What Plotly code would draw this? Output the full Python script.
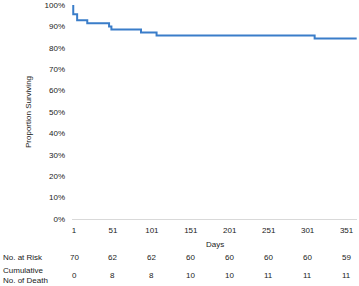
import plotly.graph_objects as go

# Kaplan-Meier step data (days, survival proportion)
days = [0, 0, 5, 18, 46, 49, 87, 107, 310, 364]
survival = [1.0, 0.9571, 0.9286, 0.9143, 0.9000, 0.8857, 0.8714, 0.8571, 0.8429, 0.8429]

tick_days = [1, 51, 101, 151, 201, 251, 301, 351]
at_risk = [70, 62, 62, 60, 60, 60, 60, 59]
cum_deaths = [0, 8, 8, 10, 10, 11, 11, 11]
y_ticks = [0, 0.1, 0.2, 0.3, 0.4, 0.5, 0.6, 0.7, 0.8, 0.9, 1.0]

FONT = "Liberation Sans"
TXT = "#1A1A1A"
FS = 8

W, H = 359, 286
ml, mr, mt, mb = 72, 2, 5, 67
ph = H - mt - mb
pw = W - ml - mr

def py(ypix):
    return (H - mb - ypix) / ph

def px(xpix):
    return (xpix - ml) / pw

fig = go.Figure()
fig.add_trace(go.Scatter(
    x=days, y=survival, mode="lines", line=dict(color="#3A7DC9", width=2, shape="hv"),
    hoverinfo="skip", showlegend=False))

ann = []
for d, r, c in zip(tick_days, at_risk, cum_deaths):
    ann.append(dict(x=d, y=py(257), xref="x", yref="paper", text=str(r), showarrow=False,
                    xanchor="center", yanchor="middle"))
    ann.append(dict(x=d, y=py(275), xref="x", yref="paper", text=str(c), showarrow=False,
                    xanchor="center", yanchor="middle"))
ann.append(dict(x=px(1), y=py(257), xref="paper", yref="paper", text="No. at Risk",
                showarrow=False, xanchor="left", yanchor="middle"))
ann.append(dict(x=px(1), y=py(275.5), xref="paper", yref="paper",
                text="Cumulative<br>No. of Death", align="left",
                showarrow=False, xanchor="left", yanchor="middle"))
ann.append(dict(x=0.5, y=py(244), xref="paper", yref="paper", text="Days",
                showarrow=False, xanchor="center", yanchor="middle"))
ann.append(dict(x=px(28), y=0.5, xref="paper", yref="paper", text="Proportion Surviving",
                textangle=-90, showarrow=False, xanchor="center", yanchor="middle"))

fig.update_layout(
    width=W, height=H, margin=dict(l=ml, r=mr, t=mt, b=mb),
    paper_bgcolor="white", plot_bgcolor="white",
    font=dict(family=FONT, size=FS, color=TXT),
    annotations=ann,
    xaxis=dict(range=[-1.6, 364.4], tickmode="array", tickvals=tick_days,
               ticktext=[str(t) for t in tick_days], showgrid=False, zeroline=False,
               showline=True, linecolor="#D9D9D9", linewidth=1, ticks="", ticklen=0,
               ticklabelstandoff=3, tickfont=dict(size=FS, color=TXT)),
    yaxis=dict(range=[0, 1.0], tickmode="array", tickvals=y_ticks,
               ticktext=[f"{int(round(v*100))}%" for v in y_ticks], showgrid=False,
               zeroline=False, showline=False, ticks="", ticklabelstandoff=6,
               tickfont=dict(size=FS, color=TXT)),
)
fig.write_html("out.html", config={"displayModeBar": False},
               post_script="document.body.style.margin='0';document.body.style.padding='0';")
